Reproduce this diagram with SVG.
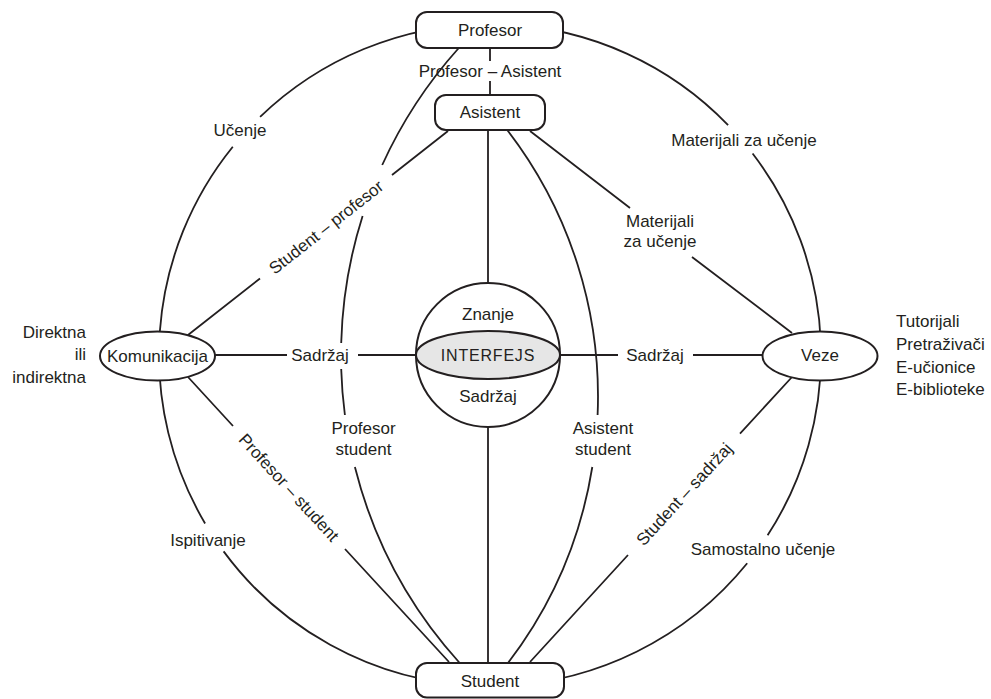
<svg xmlns="http://www.w3.org/2000/svg" width="991" height="699" viewBox="0 0 991 699">
<style>
.ln{fill:none;stroke:#231f20;stroke-width:1.8}
.nd{fill:#fff;stroke:#231f20;stroke-width:2}
.core{fill:#e6e6e6;stroke:#231f20;stroke-width:2}
text{font-family:"Liberation Sans",Arial,sans-serif;font-size:17px;fill:#231f20}
.m{text-anchor:middle}
.e{text-anchor:end}
.ifc{font-size:16px;letter-spacing:0.8px}
</style>
<rect width="991" height="699" fill="#fff"/>
<g id="connectors">
  <path class="ln" d="M260.1,116.9 A331,331 0 0,1 728.1,125.1"/>
  <path class="ln" d="M752.6,153.5 A331,331 0 0,1 767.6,535.3"/>
  <path class="ln" d="M747.2,563.3 A331,331 0 0,1 223.6,551.4"/>
  <path class="ln" d="M205.1,523.5 A331,331 0 0,1 232.8,146.7"/>
  <path class="ln" d="M458.8,48 A459,459 0 0,0 382.2,165"/>
  <path class="ln" d="M362.6,216 A459,459 0 0,0 341.2,343"/>
  <path class="ln" d="M341.2,369 A459,459 0 0,0 344.9,415"/>
  <path class="ln" d="M354.9,467 A459,459 0 0,0 459.7,663"/>
  <path class="ln" d="M507.2,130 A436.6,436.6 0 0,1 597.6,415"/>
  <path class="ln" d="M592.3,467 A436.6,436.6 0 0,1 508,663"/>
  <path class="ln" d="M490,48 V61 M490,81 V95"/>
  <path class="ln" d="M488,130 V283 M488,427 V663"/>
  <path class="ln" d="M215,355 H287 M358,355 H416"/>
  <path class="ln" d="M560,355 H618 M693,355 H763"/>
  <path class="ln" d="M188,335 L260,278.5 M392,175 L448,131"/>
  <path class="ln" d="M188,377 L233,426 M345,549 L449,662"/>
  <path class="ln" d="M530,131 L630,208 M692,257 L792,333"/>
  <path class="ln" d="M792,377 L740,433.6 M628,555 L530,662"/>
  <text class="m" x="490" y="77">Profesor – Asistent</text>
  <text class="m" x="240" y="136">Učenje</text>
  <text class="m" x="744" y="146">Materijali za učenje</text>
  <text class="m" x="208" y="546">Ispitivanje</text>
  <text class="m" x="763" y="555">Samostalno učenje</text>
  <text class="m" x="320" y="361">Sadržaj</text>
  <text class="m" x="655" y="361">Sadržaj</text>
  <text class="m" x="660" y="227">Materijali</text>
  <text class="m" x="660" y="247">za učenje</text>
  <text class="m" x="363.5" y="434">Profesor</text>
  <text class="m" x="363.5" y="455">student</text>
  <text class="m" x="603" y="434">Asistent</text>
  <text class="m" x="603" y="455">student</text>
  <text class="m" transform="translate(326,227) rotate(-38.1)" x="0" y="6">Student – profesor</text>
  <text class="m" transform="translate(289,487.5) rotate(47.5)" x="0" y="6">Profesor – student</text>
  <text class="m" transform="translate(684,494) rotate(-47.4)" x="0" y="6">Student – sadržaj</text>
</g>
<g id="profesor">
  <rect class="nd" x="416" y="12" width="147" height="36" rx="11"/>
  <text class="m" x="490" y="36">Profesor</text>
</g>
<g id="asistent">
  <rect class="nd" x="435" y="95" width="110" height="35" rx="11"/>
  <text class="m" x="490" y="118">Asistent</text>
</g>
<g id="student">
  <rect class="nd" x="416" y="663" width="148" height="34.5" rx="11"/>
  <text class="m" x="490" y="687">Student</text>
</g>
<g id="komunikacija">
  <ellipse class="nd" cx="157.5" cy="356" rx="57.5" ry="24.5"/>
  <text class="m" x="157.5" y="362">Komunikacija</text>
  <text class="e" x="86" y="338">Direktna</text>
  <text class="e" x="86" y="360">ili</text>
  <text class="e" x="86" y="383">indirektna</text>
</g>
<g id="veze">
  <ellipse class="nd" cx="820" cy="356" rx="57.5" ry="24.5"/>
  <text class="m" x="820" y="361">Veze</text>
  <text x="896" y="327">Tutorijali</text>
  <text x="896" y="350">Pretraživači</text>
  <text x="896" y="373">E-učionice</text>
  <text x="896" y="395">E-biblioteke</text>
</g>
<g id="interfejs">
  <circle class="nd" cx="488" cy="355" r="72"/>
  <ellipse class="core" cx="488" cy="355" rx="72" ry="24"/>
  <text class="m ifc" x="488" y="361">INTERFEJS</text>
  <text class="m" x="488" y="320">Znanje</text>
  <text class="m" x="488" y="402">Sadržaj</text>
</g>
</svg>
